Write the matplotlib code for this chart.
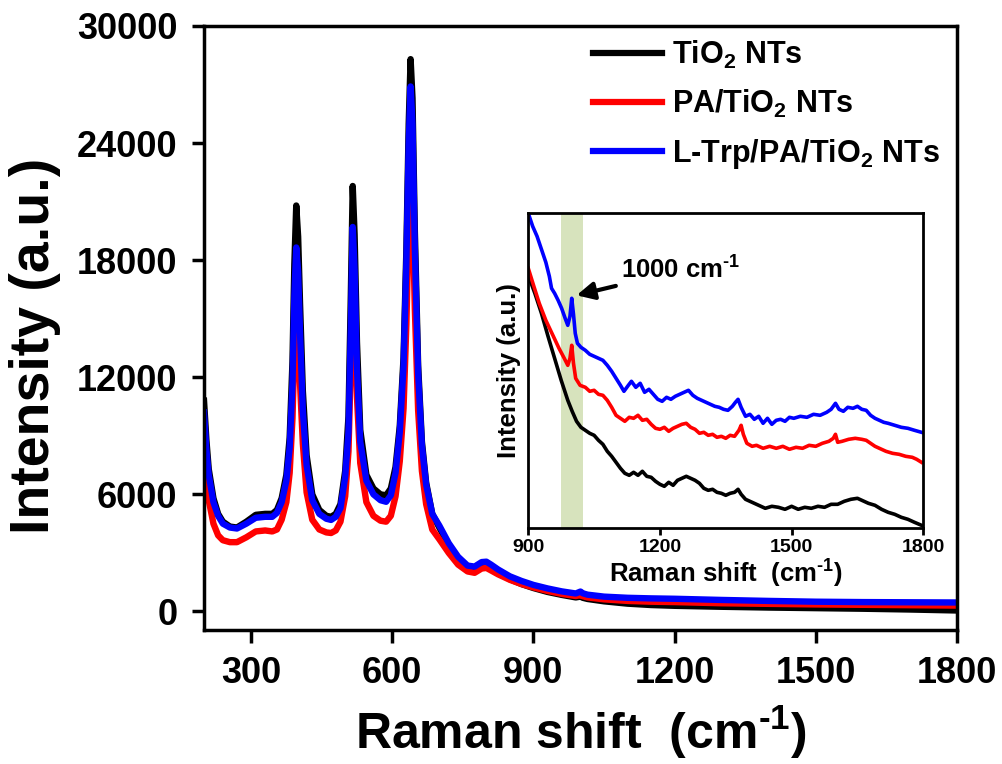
import matplotlib
matplotlib.use('Agg')
import matplotlib.pyplot as plt

plt.rcParams['font.family'] = ['Liberation Sans', 'DejaVu Sans']
plt.rcParams['font.weight'] = 'bold'
plt.rcParams['mathtext.fontset'] = 'custom'
plt.rcParams['mathtext.rm'] = 'Liberation Sans:bold'
plt.rcParams['mathtext.it'] = 'Liberation Sans:bold'
plt.rcParams['mathtext.bf'] = 'Liberation Sans:bold'

# main spectra
shift = [200, 205, 210, 220, 230, 240, 255, 270, 290, 310, 330, 345, 355, 365, 375,
         382, 388, 392, 396, 400, 404, 410, 418, 430, 445, 460, 470, 480, 490, 500,
         507, 512, 516, 520, 525, 532, 545, 560, 575, 587, 597, 607, 616, 624, 630,
         635, 639, 643, 648, 655, 663, 672, 685, 700, 720, 740, 760, 775, 790, 800,
         810, 825, 850, 875, 900, 930, 960, 990, 1000, 1005, 1015, 1050, 1100, 1150,
         1200, 1300, 1400, 1500, 1600, 1700, 1800]

tio2 = [10800, 8800, 7300, 5800, 5000, 4600, 4350, 4300, 4600, 4950, 5000, 5000, 5200, 5800, 7000,
        8900, 12800, 17800, 20800, 19200, 15800, 11300, 8000, 6000, 5200, 4900, 4850, 5000, 5500, 7200,
        10000, 16200, 21800, 19300, 13800, 9300, 7000, 6300, 6000, 5950, 6300, 7400, 9500, 13000, 18500,
        25000, 28300, 26300, 19500, 12600, 8700, 6600, 5000, 4300, 3400, 2700, 2300, 2250, 2450, 2450,
        2300, 2000, 1650, 1400, 1200, 1000, 850, 720, 760, 700, 640, 520, 400, 330,
        290, 240, 200, 170, 140, 100, 50]

pa_tio2 = [8400, 6800, 5700, 4500, 3900, 3650, 3550, 3550, 3800, 4100, 4150, 4100, 4200, 4700, 5600,
           7100, 9900, 13300, 14750, 14000, 11700, 8600, 6100, 4700, 4200, 4050, 4020, 4150, 4600, 5900,
           8200, 12800, 16400, 15000, 11000, 7600, 5600, 4900, 4650, 4600, 4900, 5900, 7700, 10400, 14700,
           19800, 22100, 20700, 15500, 10300, 7200, 5500, 4200, 3700, 3000, 2400, 2050, 1980, 2200, 2230,
           2100, 1900, 1620, 1400, 1230, 1050, 900, 790, 840, 780, 720, 620, 540, 500,
           480, 420, 390, 360, 340, 320, 300]

trp_pa_tio2 = [10200, 8300, 7000, 5600, 4900, 4500, 4300, 4250, 4500, 4800, 4850, 4850, 5050, 5600, 6700,
               8400, 11700, 16200, 18650, 17400, 14300, 10300, 7500, 5700, 5000, 4750, 4690, 4850, 5300, 6900,
               9200, 14600, 19700, 17500, 12500, 8700, 6700, 6000, 5700, 5620, 5950, 7100, 9200, 12600, 17900,
               24000, 26900, 25000, 18600, 12200, 8500, 6500, 5000, 4400, 3500, 2800, 2350, 2300, 2530, 2550,
               2400, 2150, 1800, 1560, 1360, 1180, 1030, 920, 1020, 930, 860, 760, 700, 670,
               650, 590, 540, 500, 480, 470, 460]

# inset spectra, 900-1800 cm-1 (arbitrary units)
ins_x_black = [900, 915, 930, 945, 960, 975, 990, 1000, 1010, 1020, 1030, 1040, 1050, 1060, 1070,
               1080, 1090, 1100, 1110, 1120, 1130, 1140, 1150, 1160, 1170, 1180, 1190, 1200, 1210,
               1220, 1230, 1240, 1250, 1260, 1270, 1280, 1290, 1300, 1310, 1320, 1330, 1340, 1350,
               1360, 1370, 1378, 1385, 1395, 1410, 1425, 1440, 1455, 1470, 1485, 1500, 1515, 1530,
               1545, 1560, 1575, 1590, 1605, 1620, 1635, 1650, 1660, 1675, 1690, 1705, 1720, 1735,
               1750, 1765, 1780, 1796]
ins_black = [253, 235, 215, 192, 170, 148, 128, 117, 107, 101, 98, 95, 93, 88, 84,
             77, 72, 66, 60, 55, 53, 56, 53, 57, 52, 51, 47, 44, 42,
             46, 43, 48, 50, 52, 50, 48, 45, 40, 38, 39, 36, 35, 33,
             35, 36, 39, 34, 29, 26, 23, 20, 22, 21, 19, 22, 19, 21,
             20, 22, 21, 24, 24, 27, 29, 30, 28, 25, 23, 19, 16, 14,
             11, 9, 6, 3]

ins_x_red = [900, 912, 925, 940, 955, 970, 982, 990, 995, 999, 1003, 1008, 1018, 1030, 1040,
             1050, 1060, 1070, 1080, 1090, 1100, 1110, 1120, 1130, 1140, 1150, 1160, 1170, 1180,
             1190, 1200, 1210, 1220, 1230, 1240, 1250, 1260, 1270, 1280, 1290, 1300, 1310, 1320,
             1330, 1340, 1350, 1360, 1370, 1380, 1385, 1390, 1398, 1410, 1420, 1435, 1450, 1465,
             1480, 1495, 1510, 1525, 1540, 1555, 1570, 1585, 1595, 1600, 1605, 1615, 1630, 1645,
             1660, 1670, 1680, 1690, 1700, 1715, 1730, 1745, 1760, 1775, 1785, 1796]
ins_red = [260, 243, 225, 208, 194, 180, 170, 163, 170, 183, 165, 150, 143, 141, 137,
           138, 134, 133, 128, 121, 113, 110, 107, 111, 110, 113, 108, 109, 104,
           100, 99, 101, 97, 100, 102, 104, 105, 101, 99, 95, 96, 93, 94,
           91, 92, 90, 93, 92, 98, 103, 94, 85, 82, 83, 80, 82, 80,
           82, 79, 81, 80, 83, 82, 85, 87, 90, 94, 86, 87, 89, 90,
           89, 88, 85, 82, 80, 77, 75, 74, 72, 71, 69, 66]

ins_x_blue = [900, 910, 920, 930, 940, 948, 953, 960, 968, 976, 984, 990, 995, 999, 1003,
              1007, 1012, 1020, 1030, 1040, 1050, 1060, 1070, 1080, 1090, 1100, 1110, 1118, 1128,
              1135, 1145, 1155, 1165, 1175, 1185, 1195, 1205, 1215, 1225, 1235, 1245, 1255, 1265,
              1275, 1285, 1295, 1305, 1315, 1325, 1335, 1345, 1355, 1365, 1372, 1378, 1385, 1395,
              1405, 1415, 1425, 1435, 1445, 1455, 1465, 1475, 1485, 1495, 1505, 1520, 1535, 1550,
              1565, 1580, 1590, 1600, 1608, 1618, 1628, 1640, 1650, 1660, 1670, 1680, 1690, 1700,
              1710, 1720, 1735, 1750, 1765, 1780, 1796]
ins_blue = [315, 302, 292, 279, 266, 252, 240, 235, 228, 220, 210, 203, 212, 230, 214,
            195, 185, 181, 178, 174, 172, 170, 168, 163, 157, 150, 143, 137, 143,
            147, 141, 145, 136, 139, 134, 129, 127, 131, 129, 132, 134, 136, 138,
            133, 130, 128, 126, 124, 122, 121, 119, 118, 122, 126, 129, 121, 112,
            114, 109, 112, 105, 110, 104, 108, 109, 107, 111, 110, 112, 111, 114,
            113, 116, 119, 125, 119, 117, 121, 120, 122, 119, 118, 113, 110, 108,
            106, 105, 103, 101, 100, 98, 96]

labels = ['TiO$_2$ NTs', 'PA/TiO$_2$ NTs', 'L-Trp/PA/TiO$_2$ NTs']
colors = ['black', '#ff0000', '#0000ff']

fig = plt.figure(figsize=(10.03, 7.64), dpi=100)
ax = fig.add_axes([0.2034, 0.1754, 0.7507, 0.7906])

ax.plot(shift, tio2, color=colors[0], lw=4.6, label=labels[0])
ax.plot(shift, pa_tio2, color=colors[1], lw=4.6, label=labels[1])
ax.plot(shift, trp_pa_tio2, color=colors[2], lw=4.6, label=labels[2])

ax.set_xlim(200, 1800)
ax.set_ylim(-950, 30000)
ax.set_xticks([300, 600, 900, 1200, 1500, 1800])
ax.set_yticks([0, 6000, 12000, 18000, 24000, 30000])
for s in ax.spines.values():
    s.set_linewidth(2.5)
ax.tick_params(direction='out', length=9, width=2.5, labelsize=26, pad=10)
ax.set_xlabel(r'Raman shift  (cm$^{\text{-1}}$)', fontsize=36, fontweight='bold', labelpad=9)
ax.set_ylabel('Intensity (a.u.)', fontsize=40, fontweight='bold')
ax.yaxis.set_label_coords(-0.19, 0.47)

leg = ax.legend(loc='upper left', bbox_to_anchor=(0.591, 0.949), bbox_transform=fig.transFigure,
                frameon=False, fontsize=22, handlelength=2.25, handletextpad=0.35,
                labelspacing=0.55, borderpad=0, borderaxespad=0)
for h in leg.get_lines():
    h.set_linewidth(4.5)

# inset
ins = fig.add_axes([0.5267, 0.3085, 0.3938, 0.4123])
ins.axvspan(975, 1025, color='#d7e3bd', lw=0)
ins.plot(ins_x_black, ins_black, color=colors[0], lw=2.6)
ins.plot(ins_x_red, ins_red, color=colors[1], lw=2.6)
ins.plot(ins_x_blue, ins_blue, color=colors[2], lw=2.6)
ins.set_xlim(900, 1800)
ins.set_ylim(0, 315)
ins.set_xticks([900, 1200, 1500, 1800])
ins.set_yticks([])
for s in ins.spines.values():
    s.set_linewidth(2)
ins.tick_params(direction='out', length=5, width=2, labelsize=14, pad=3)
ins.set_xlabel(r'Raman shift  (cm$^{\text{-1}}$)', fontsize=18.5, fontweight='bold', labelpad=1)
ins.set_ylabel('Intensity (a.u.)', fontsize=18.5, fontweight='bold', labelpad=5)
ins.annotate(r'1000 cm$^{\text{-1}}$', xy=(1010, 233), xytext=(1112, 258), fontsize=18.5,
             fontweight='bold', ha='left', va='center',
             arrowprops=dict(arrowstyle='-|>', color='black', lw=3, mutation_scale=26,
                             shrinkA=2, shrinkB=0))

fig.savefig('out.png', dpi=100)
